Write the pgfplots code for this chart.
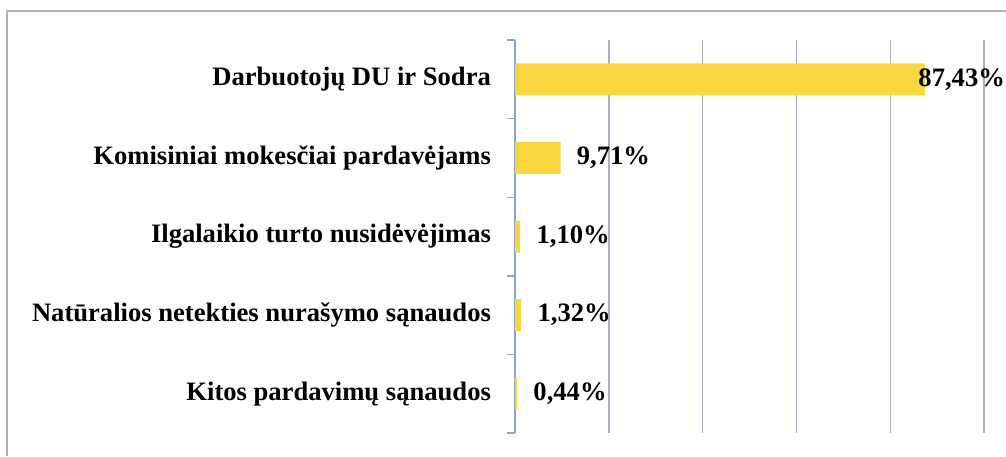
\documentclass[border=0pt]{standalone}
\usepackage{fontspec}
\setmainfont{Liberation Serif}
\usepackage{pgfplots}
\usepackage{pgfplotstable}
\pgfplotsset{compat=1.18}
\definecolor{baryellow}{RGB}{249,215,64}
\definecolor{gridcol}{RGB}{170,176,190}
\definecolor{axiscol}{RGB}{140,165,200}
\definecolor{framecol}{RGB}{170,178,192}

% y = row (0 at top), val = share in %, shift = label offset in pt
\pgfplotstableread{
y val shift
0 87.43 -3.5
1 9.71 8
2 1.10 8
3 1.32 8
4 0.44 8
}\costs

\begin{document}
\begin{tikzpicture}
\path[use as bounding box] (0,0) rectangle (503pt,228pt);
\draw[framecol,line width=0.8pt] (3.5pt,0) -- (3.5pt,222.5pt) -- (503pt,222.5pt);
\begin{axis}[
  at={(257.5pt,11.5pt)}, anchor=south west,
  scale only axis, width=234.5pt, height=196.5pt,
  xbar, bar width=16pt,
  xmin=0, xmax=100, ymin=-0.5, ymax=4.5, y dir=reverse,
  axis lines*=left,
  x axis line style={draw=none},
  y axis line style={axiscol,line width=0.7pt},
  xtick={20,40,60,80,100}, xticklabels={}, xmajorgrids,
  grid style={gridcol,line width=0.7pt},
  major x tick style={draw=none},
  ytick={-0.5,0.5,...,4.5}, y tick label as interval,
  yticklabels={Darbuotojų DU ir Sodra,
    Komisiniai mokesčiai pardavėjams\hspace{2.5pt},
    Ilgalaikio turto nusidėvėjimas,
    Natūralios netekties nurašymo sąnaudos\hspace{2.5pt},
    Kitos pardavimų sąnaudos\hspace{2.5pt}},
  y tick style={axiscol,line width=0.7pt},
  major tick length=4pt, tick align=outside,
  yticklabel style={font=\fontsize{13.3}{15}\selectfont\bfseries, xshift=-4.5pt},
  nodes near coords={\pgfmathprintnumber[fixed,fixed zerofill,precision=2,use comma,assume math mode=true]{\pgfplotspointmeta}\%},
  visualization depends on={\thisrow{shift}\as\lblshift},
  nodes near coords style={font=\fontsize{13.3}{15}\selectfont\bfseries, anchor=west, inner sep=0pt, xshift=\lblshift},
]
\addplot[fill=baryellow, draw=none] table[x=val,y=y] {\costs};
\end{axis}
\end{tikzpicture}
\end{document}
